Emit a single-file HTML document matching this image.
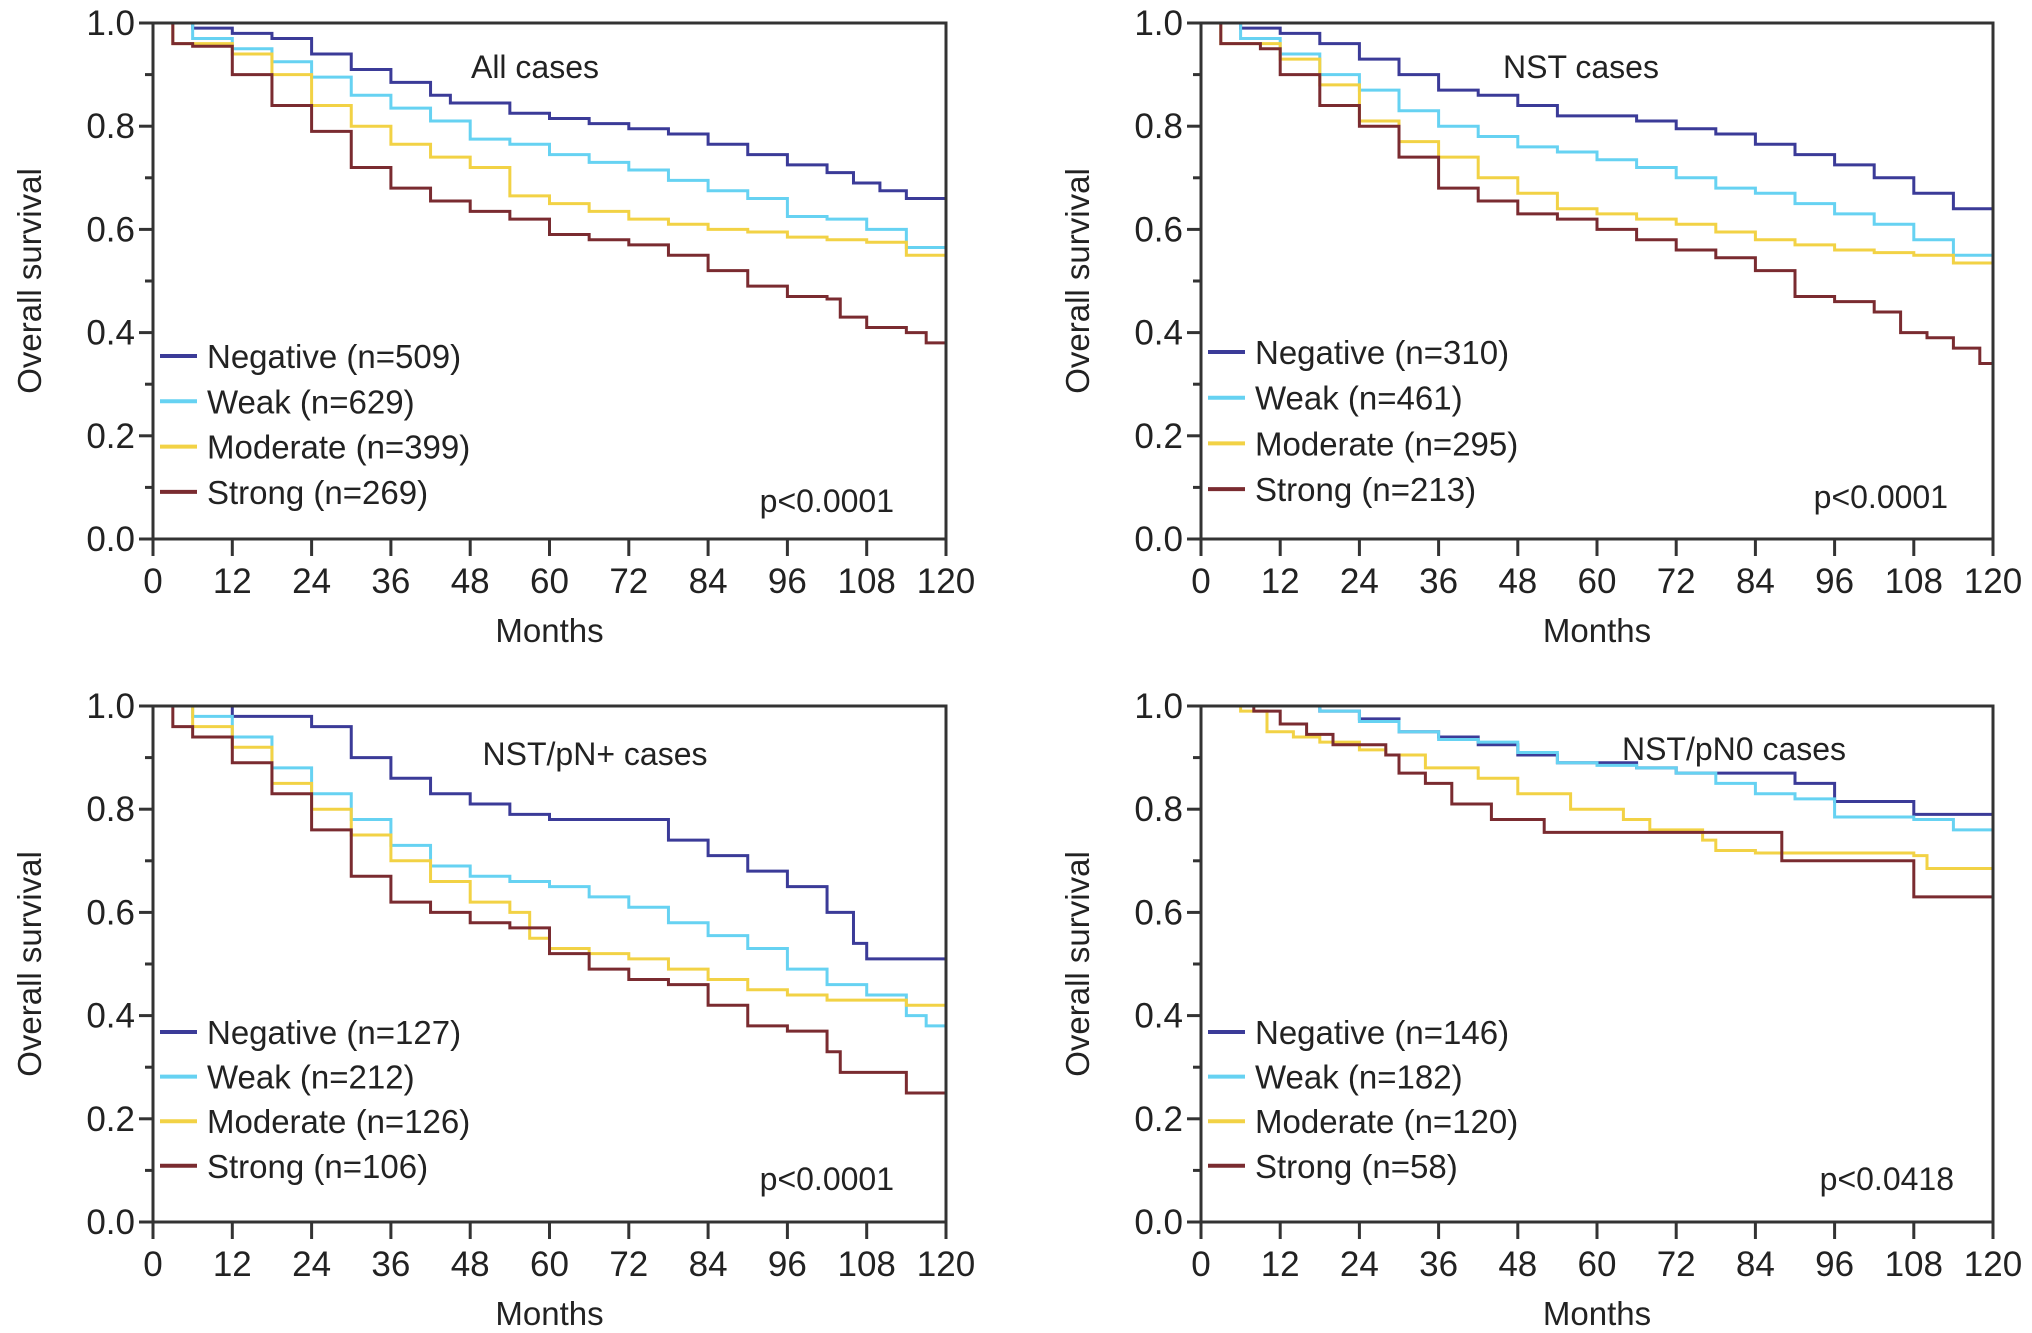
<!DOCTYPE html>
<html><head><meta charset="utf-8"><style>
html,body{margin:0;padding:0;background:#fff;}
svg{display:block;font-family:"Liberation Sans",Arial,sans-serif;}
</style></head><body>
<svg id="fig" width="2032" height="1333" viewBox="0 0 2032 1333" xmlns="http://www.w3.org/2000/svg"></svg>
<script>
const xTicks=[0,12,24,36,48,60,72,84,96,108,120];
const yTicks=[0,0.2,0.4,0.6,0.8,1.0];
const seriesNames=["Negative","Weak","Moderate","Strong"];
const colors=["#3b3b98","#66d2f2","#f2d245","#7a2b30"];

const p1N=[509,629,399,269];
const p1NegT=[0,6,12,18,24,30,36,42,45,54,60,66,72,78,84,90,96,102,106,110,114,120];
const p1NegS=[1,0.99,0.98,0.97,0.94,0.91,0.885,0.86,0.845,0.825,0.815,0.805,0.795,0.785,0.765,0.745,0.725,0.71,0.69,0.675,0.66,0.655];
const p1WeakT=[0,6,12,18,24,30,36,42,48,54,60,66,72,78,84,90,96,102,108,114,120];
const p1WeakS=[1,0.97,0.95,0.925,0.895,0.86,0.835,0.81,0.775,0.765,0.745,0.73,0.715,0.695,0.675,0.66,0.625,0.62,0.6,0.565,0.55];
const p1ModT=[0,3,12,18,24,30,36,42,48,54,60,66,72,78,84,90,96,102,108,114,120];
const p1ModS=[1,0.96,0.94,0.9,0.84,0.8,0.765,0.74,0.72,0.665,0.65,0.635,0.62,0.61,0.6,0.595,0.585,0.58,0.575,0.55,0.55];
const p1StrT=[0,3,6,12,18,24,30,36,42,48,54,60,66,72,78,84,90,96,102,104,108,114,117,120];
const p1StrS=[1,0.96,0.955,0.9,0.84,0.79,0.72,0.68,0.655,0.635,0.62,0.59,0.58,0.57,0.55,0.52,0.49,0.47,0.465,0.43,0.41,0.4,0.38,0.375];

const p2N=[310,461,295,213];
const p2NegT=[0,6,12,18,24,30,36,42,48,54,66,72,78,84,90,96,102,108,114,120];
const p2NegS=[1,0.99,0.98,0.96,0.93,0.9,0.87,0.86,0.84,0.82,0.81,0.795,0.785,0.765,0.745,0.725,0.7,0.67,0.64,0.62];
const p2WeakT=[0,6,12,18,24,30,36,42,48,54,60,66,72,78,84,90,96,102,108,114,120];
const p2WeakS=[1,0.97,0.94,0.9,0.87,0.83,0.8,0.78,0.76,0.75,0.735,0.72,0.7,0.68,0.67,0.65,0.63,0.61,0.58,0.55,0.53];
const p2ModT=[0,3,12,18,24,30,36,42,48,54,60,66,72,78,84,90,96,102,108,114,120];
const p2ModS=[1,0.96,0.93,0.88,0.81,0.77,0.74,0.7,0.67,0.64,0.63,0.62,0.61,0.595,0.58,0.57,0.56,0.555,0.55,0.535,0.53];
const p2StrT=[0,3,9,12,18,24,30,36,42,48,54,60,66,72,78,84,90,96,102,106,110,114,118,120];
const p2StrS=[1,0.96,0.95,0.9,0.84,0.8,0.74,0.68,0.655,0.63,0.62,0.6,0.58,0.56,0.545,0.52,0.47,0.46,0.44,0.4,0.39,0.37,0.34,0.34];

const p3N=[127,212,126,106];
const p3NegT=[0,12,24,30,36,42,48,54,60,72,78,84,90,96,102,106,108,120];
const p3NegS=[1,0.98,0.96,0.9,0.86,0.83,0.81,0.79,0.78,0.78,0.74,0.71,0.68,0.65,0.6,0.54,0.51,0.51];
const p3WeakT=[0,6,12,18,24,30,36,42,48,54,60,66,72,78,84,90,96,102,108,114,117,120];
const p3WeakS=[1,0.98,0.94,0.88,0.83,0.78,0.73,0.69,0.67,0.66,0.65,0.63,0.61,0.58,0.555,0.53,0.49,0.46,0.44,0.4,0.38,0.38];
const p3ModT=[0,6,12,18,24,30,36,42,48,54,57,60,66,72,78,84,90,96,102,114,120];
const p3ModS=[1,0.96,0.92,0.85,0.8,0.75,0.7,0.66,0.62,0.6,0.55,0.53,0.52,0.51,0.49,0.47,0.45,0.44,0.43,0.42,0.4];
const p3StrT=[0,3,6,12,18,24,30,36,42,48,54,60,66,72,78,84,90,96,102,104,114,120];
const p3StrS=[1,0.96,0.94,0.89,0.83,0.76,0.67,0.62,0.6,0.58,0.57,0.52,0.49,0.47,0.46,0.42,0.38,0.37,0.33,0.29,0.25,0.25];

const p4N=[146,182,120,58];
const p4NegT=[0,16,18,24,30,36,42,48,54,66,72,87,90,96,108,120];
const p4NegS=[1,1,0.99,0.975,0.95,0.94,0.925,0.905,0.89,0.88,0.87,0.87,0.85,0.815,0.79,0.79];
const p4WeakT=[0,12,18,24,30,36,42,48,54,60,66,72,78,84,90,96,108,114,120];
const p4WeakS=[1,1,0.99,0.97,0.95,0.935,0.93,0.91,0.89,0.885,0.88,0.87,0.85,0.83,0.82,0.785,0.78,0.76,0.76];
const p4ModT=[0,6,10,14,18,24,28,34,42,48,56,64,68,76,78,84,108,110,120];
const p4ModS=[1,0.99,0.95,0.94,0.93,0.915,0.905,0.88,0.86,0.83,0.8,0.78,0.76,0.74,0.72,0.715,0.71,0.685,0.685];
const p4StrT=[0,8,12,16,20,28,30,34,38,44,52,88,106,108,120];
const p4StrS=[1,0.99,0.965,0.945,0.925,0.905,0.87,0.85,0.81,0.78,0.755,0.7,0.7,0.63,0.63];

const NS="http://www.w3.org/2000/svg";
const svg=document.getElementById('fig');
function mk(tag,attrs,parent,text){const e=document.createElementNS(NS,tag);for(const k in attrs)e.setAttribute(k,attrs[k]);if(text!==undefined)e.textContent=text;(parent||svg).appendChild(e);return e;}

const panels=[
 {x0:153,x1:946,y0:539,y1:23,title:"All cases",tx:535,ty:78,n:p1N,T:[p1NegT,p1WeakT,p1ModT,p1StrT],S:[p1NegS,p1WeakS,p1ModS,p1StrS],p:"p<0.0001",px:894,py:512,leg:356,legGap:45.3,name:"all-cases"},
 {x0:1201,x1:1993,y0:539,y1:23,title:"NST cases",tx:1581,ty:78,n:p2N,T:[p2NegT,p2WeakT,p2ModT,p2StrT],S:[p2NegS,p2WeakS,p2ModS,p2StrS],p:"p<0.0001",px:1948,py:508,leg:352,legGap:45.7,name:"nst-cases"},
 {x0:153,x1:946,y0:1222,y1:706,title:"NST/pN+ cases",tx:595,ty:765,n:p3N,T:[p3NegT,p3WeakT,p3ModT,p3StrT],S:[p3NegS,p3WeakS,p3ModS,p3StrS],p:"p<0.0001",px:894,py:1190,leg:1032,legGap:44.6,name:"nst-pn-positive"},
 {x0:1201,x1:1993,y0:1222,y1:706,title:"NST/pN0 cases",tx:1734,ty:760,n:p4N,T:[p4NegT,p4WeakT,p4ModT,p4StrT],S:[p4NegS,p4WeakS,p4ModS,p4StrS],p:"p<0.0418",px:1954,py:1190,leg:1032,legGap:44.6,name:"nst-pn0"}
];

panels.forEach(P=>{
 const g=mk('g',{});
 
 
 const X=m=>P.x0+(m/120)*(P.x1-P.x0);
 const Y=s=>P.y0-s*(P.y0-P.y1);
 P.T.forEach((ts,i)=>{
  const ss=P.S[i];let d=`M${X(ts[0])},${Y(ss[0])}`;
  for(let k=1;k<ts.length;k++){d+=` H${X(ts[k])} V${Y(ss[k])}`;}
  const pth=mk('path',{d:d,fill:'none',stroke:colors[i],'stroke-width':3,'stroke-linejoin':'miter'},g);
  
  
 });
 const fr=mk('rect',{x:P.x0,y:P.y1,width:P.x1-P.x0,height:P.y0-P.y1,fill:'none',stroke:'#333','stroke-width':3},g);
 
 
 xTicks.forEach(t=>{
  mk('line',{x1:X(t),x2:X(t),y1:P.y0,y2:P.y0+17,stroke:'#333','stroke-width':3},g);
  const tl=mk('text',{x:X(t),y:P.y0+54,'text-anchor':'middle','font-size':35,fill:'#222'},g,String(t));
  
  
 });
 for(let k=0;k<=10;k++){const v=k/10;const major=k%2===0;
  mk('line',{x1:P.x0-(major?14:8),x2:P.x0,y1:Y(v),y2:Y(v),stroke:'#333','stroke-width':3},g);}
 yTicks.forEach(v=>{
  const tl=mk('text',{x:P.x0-18,y:Y(v)+12,'text-anchor':'end','font-size':35,fill:'#222'},g,v.toFixed(1));
  
  
 });
 const xt=mk('text',{x:(P.x0+P.x1)/2,y:P.y0+103,'text-anchor':'middle','font-size':33,fill:'#222'},g,'Months');
 
 
 const cy=(P.y0+P.y1)/2, cx=P.x0-112;
 const yt=mk('text',{x:cx,y:cy,'text-anchor':'middle','font-size':33,fill:'#222',transform:`rotate(-90 ${cx} ${cy})`},g,'Overall survival');
 
 
 const ti=mk('text',{x:P.tx,y:P.ty,'text-anchor':'middle','font-size':32,fill:'#222'},g,P.title);
 
 
 const pv=mk('text',{x:P.px,y:P.py,'text-anchor':'end','font-size':32,fill:'#222'},g,P.p);
 
 
 seriesNames.forEach((nm,i)=>{
  const yy=P.leg+i*P.legGap;
  const le=mk('g',{},g);
  
  
  mk('line',{x1:P.x0+7,x2:P.x0+44,y1:yy,y2:yy,stroke:colors[i],'stroke-width':4},le);
  mk('text',{x:P.x0+54,y:yy+12,'font-size':33,fill:'#222'},le,`${nm} (n=${P.n[i]})`);
 });
});
</script>
</body></html>
